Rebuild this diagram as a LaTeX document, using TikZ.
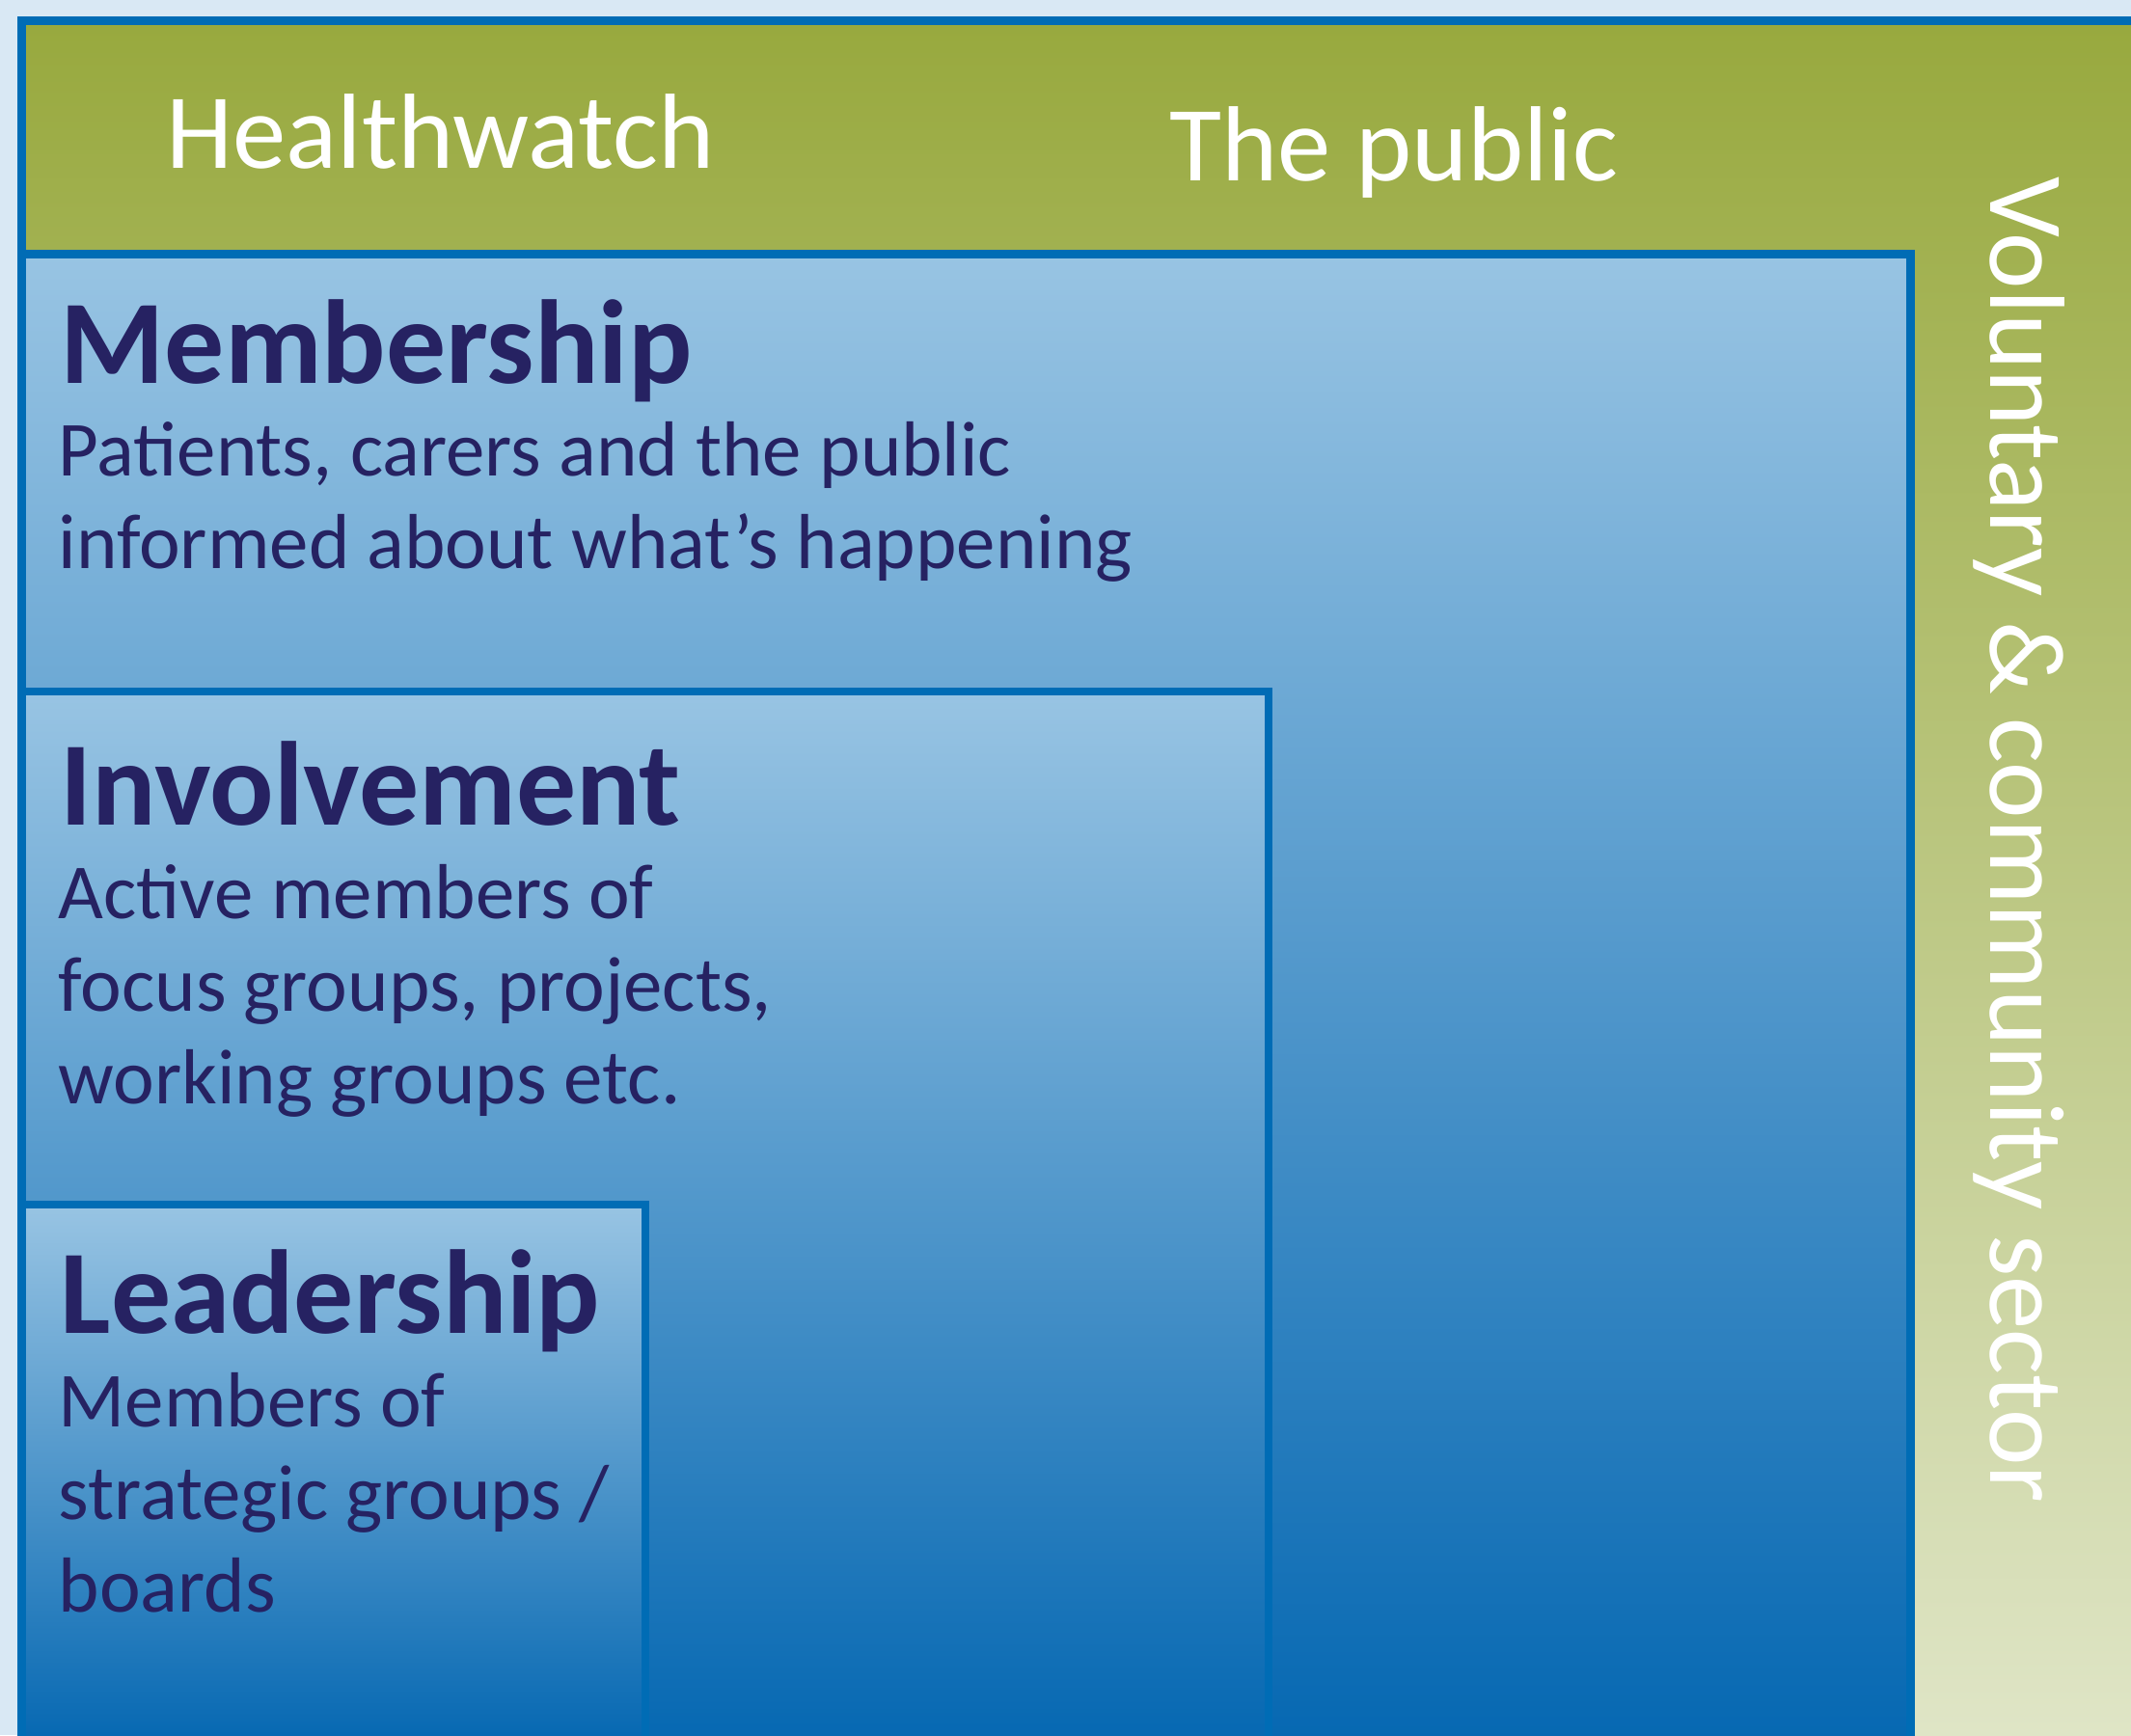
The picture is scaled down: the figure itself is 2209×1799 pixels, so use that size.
\documentclass[tikz,border=0pt]{standalone}
\usepackage{fontspec}
\setmainfont{Carlito}
\usetikzlibrary{positioning}
\definecolor{hwnavy}{RGB}{38,34,98}
\definecolor{hwblue}{RGB}{0,108,181}
\definecolor{lightblue}{RGB}{152,196,227}
\definecolor{deepblue}{RGB}{6,104,178}
\definecolor{olive}{RGB}{152,169,62}
\definecolor{paleolive}{RGB}{223,229,198}
\definecolor{paper}{RGB}{217,232,244}
\tikzstyle{tier} = [draw=hwblue, line width=0.08cm, top color=lightblue, bottom color=deepblue]
\tikzstyle{heading} = [anchor=base west, inner sep=0pt, text=hwnavy,
    font=\fontsize{35.2}{42}\selectfont\bfseries]
% multi-line: base anchor sits on the last line
\tikzstyle{detail} = [anchor=base west, inner sep=0pt, text=hwnavy, align=left,
    font=\fontsize{23}{27.3}\selectfont]
\tikzstyle{banner} = [anchor=base west, inner sep=0pt, text=white,
    font=\fontsize{31.5}{38}\selectfont]

\begin{document}
\begin{tikzpicture}[x=0.01cm, y=-0.01cm]
        % Page and frame
        \fill [paper] (0,0) rectangle (2209,1799);
        \useasboundingbox (0,0) rectangle (2209,1799);
        \shade [top color=olive, bottom color=paleolive] (22,22) rectangle (2209,1799);
        \draw [hwblue, line width=0.09cm] (22.5,1805) -- (22.5,21.5) -- (2209,21.5);
        % Nested tiers
        \path [tier, line width=0.09cm] (22.5,263.5) rectangle (1980.5,1805);
        \path [tier] (22.5,717) rectangle (1315,1805);
        \path [tier] (22.5,1249) rectangle (669,1805);
        % Banner labels
        \node [banner] (healthwatch) at (172,174) {Healthwatch};
        \node [banner] (public) at (1212,187) {The public};
        \node [banner, rotate=-90] (sector) at (2063,183) {Voluntary \& community sector};
        % Tier labels
        \node [heading] (membership) at (62,397) {Membership};
        \node [detail] (membership_info) at (60,589) {Patients, carers and the public\\
            informed about what’s happening};
        \node [heading] (involvement) at (62,855) {Involvement};
        \node [detail] (involvement_info) at (60,1144) {Active members of\\
            focus groups, projects,\\working groups etc.};
        \node [heading] (leadership) at (62,1382) {Leadership};
        \node [detail] (leadership_info) at (60,1671) {Members of\\
            strategic groups /\\boards};
\end{tikzpicture}
\end{document}
